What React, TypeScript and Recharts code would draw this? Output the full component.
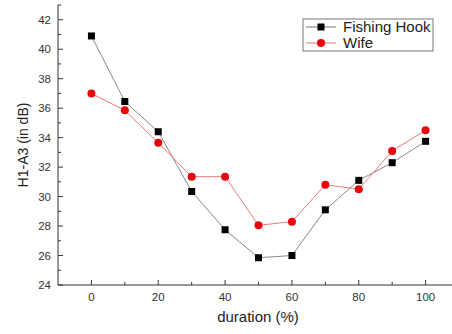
import React from "react";
import { LineChart, Line, XAxis, YAxis, Customized } from "recharts";

const durations = [0, 10, 20, 30, 40, 50, 60, 70, 80, 90, 100];
const fishingHook = [40.9, 36.45, 34.4, 30.35, 27.75, 25.85, 26.0, 29.1, 31.1, 32.3, 33.75];
const wife = [37.0, 35.85, 33.65, 31.35, 31.35, 28.05, 28.3, 30.8, 30.5, 33.1, 34.5];
const xTicks = [0, 10, 20, 30, 40, 50, 60, 70, 80, 90, 100];
const yTicks = [24, 25, 26, 27, 28, 29, 30, 31, 32, 33, 34, 35, 36, 37, 38, 39, 40, 41, 42, 43];

const data = durations.map((d, i) => ({ duration: d, hook: fishingHook[i], wife: wife[i] }));

const FONT = "'Liberation Sans', Arial, sans-serif";
const AXIS = "#333";

const BottomTick = (props: any) => {
  const { x, y, payload } = props;
  const major = payload.value % 20 === 0;
  return (
    <g>
      <line x1={x} x2={x} y1={y} y2={y - (major ? 5 : 3)} stroke={AXIS} />
      {major && (
        <text x={x} y={y + 16} textAnchor="middle" fontSize={11.5} fill="#333" fontFamily={FONT}>
          {payload.value}
        </text>
      )}
    </g>
  );
};

const TopTick = (props: any) => {
  const { x, y, payload } = props;
  const major = payload.value % 20 === 0;
  return <line x1={x} x2={x} y1={y} y2={y + (major ? 5 : 3)} stroke={AXIS} />;
};

const LeftTick = (props: any) => {
  const { x, y, payload } = props;
  const major = payload.value % 2 === 0;
  return (
    <g>
      <line x1={x} x2={x + (major ? 5 : 3)} y1={y} y2={y} stroke={AXIS} />
      {major && (
        <text x={x - 7} y={y + 4} textAnchor="end" fontSize={11.5} fill="#333" fontFamily={FONT}>
          {payload.value}
        </text>
      )}
    </g>
  );
};

const RightTick = (props: any) => {
  const { x, y, payload } = props;
  const major = payload.value % 2 === 0;
  return <line x1={x} x2={x - (major ? 5 : 3)} y1={y} y2={y} stroke={AXIS} />;
};

const SquareDot = (props: any) => {
  const { cx, cy, index } = props;
  return <rect key={`s${index}`} x={cx - 3.5} y={cy - 3.5} width={7} height={7} fill="#000" />;
};

const CircleDot = (props: any) => {
  const { cx, cy, index } = props;
  return <circle key={`c${index}`} cx={cx} cy={cy} r={4} fill="#e8060b" />;
};

const Decorations = () => (
  <g fontFamily={FONT}>
    <rect x={303} y={19} width={130} height={32} fill="#fff" stroke="#777" strokeWidth={1} />
    <line x1={306} x2={336} y1={27} y2={27} stroke="#777" />
    <rect x={317.5} y={23.5} width={7} height={7} fill="#000" />
    <text x={343} y={32} fontSize={15} fill="#222">Fishing Hook</text>
    <line x1={306} x2={336} y1={43} y2={43} stroke="#e87a7a" />
    <circle cx={321} cy={43} r={4} fill="#e8060b" />
    <text x={343} y={48} fontSize={15} fill="#222">Wife</text>
    <text x={258} y={322} textAnchor="middle" fontSize={15} fill="#222">duration (%)</text>
    <text x={28} y={145} textAnchor="middle" fontSize={14} fill="#222" transform="rotate(-90 28 145)">
      H1-A3 (in dB)
    </text>
  </g>
);

export default function App() {
  return (
    <div style={{ position: "absolute", left: 0, top: 0, width: 452, height: 334, overflow: "hidden", background: "#fff" }}>
      <LineChart width={470} height={334} data={data} margin={{ top: 5, right: 11, bottom: 0, left: 0 }}>
        <XAxis
          xAxisId="bottom"
          dataKey="duration"
          type="number"
          domain={[-10, 110]}
          ticks={xTicks}
          height={49}
          tickSize={0}
          tickMargin={0}
          tick={<BottomTick />}
          stroke={AXIS}
          interval={0}
        />
        <XAxis
          xAxisId="top"
          orientation="top"
          dataKey="duration"
          type="number"
          domain={[-10, 110]}
          ticks={xTicks}
          height={0}
          tickSize={0}
          tickMargin={0}
          tick={<TopTick />}
          stroke={AXIS}
          interval={0}
        />
        <YAxis
          yAxisId="left"
          type="number"
          domain={[24, 43]}
          ticks={yTicks}
          width={58}
          tickSize={0}
          tickMargin={0}
          tick={<LeftTick />}
          stroke={AXIS}
          interval={0}
        />
        <YAxis
          yAxisId="right"
          orientation="right"
          type="number"
          domain={[24, 43]}
          ticks={yTicks}
          width={0}
          tickSize={0}
          tickMargin={0}
          tick={<RightTick />}
          stroke={AXIS}
          interval={0}
        />
        <Line
          xAxisId="bottom"
          yAxisId="left"
          type="linear"
          dataKey="hook"
          stroke="#888"
          strokeWidth={1}
          dot={SquareDot}
          isAnimationActive={false}
        />
        <Line
          xAxisId="bottom"
          yAxisId="left"
          type="linear"
          dataKey="wife"
          stroke="#e87a7a"
          strokeWidth={1}
          dot={CircleDot}
          isAnimationActive={false}
        />
        <Customized component={Decorations} />
      </LineChart>
    </div>
  );
}
